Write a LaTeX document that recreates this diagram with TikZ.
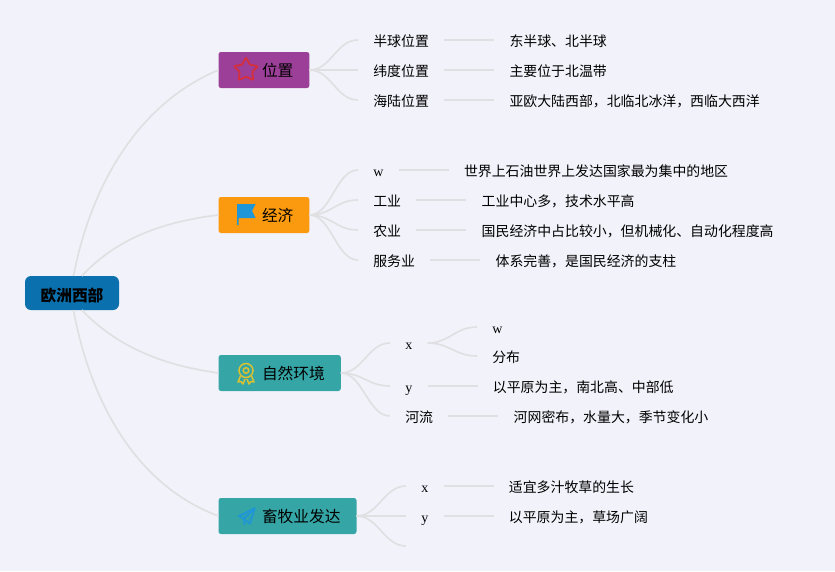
\documentclass[tikz,border=0pt]{standalone}
\usepackage{fontspec}
\setmainfont{Liberation Serif}
\newfontfamily\cjk{Noto Sans CJK SC}
\usetikzlibrary{shapes.geometric, positioning}
\definecolor{pagebg}{RGB}{242, 242, 250}
\definecolor{linegray}{RGB}{224, 224, 227}
\definecolor{rootblue}{RGB}{10, 112, 174}
\definecolor{purplebox}{RGB}{156, 63, 152}
\definecolor{orangebox}{RGB}{251, 154, 14}
\definecolor{tealbox}{RGB}{54, 165, 165}
\definecolor{starred}{RGB}{211, 47, 60}
\definecolor{iconblue}{RGB}{30, 150, 216}
\definecolor{iconyellow}{RGB}{217, 194, 50}
\newcommand{\iconpad}{\hspace*{27.5pt}}
\tikzset{
    rootbox/.style={fill=rootblue, rounded corners=6pt, minimum width=94pt, minimum height=34pt,
        inner sep=0pt, outer sep=0pt, text height=16pt, text depth=0pt,
        font=\cjk\bfseries\fontsize{15.7}{18}\selectfont},
    catbox/.style={fill=#1, rounded corners=2.5pt, anchor=west, minimum height=36pt,
        inner xsep=16pt, inner ysep=0pt, outer sep=0pt, text height=15pt, text depth=1.2pt,
        font=\cjk\fontsize{15.7}{18}\selectfont},
    leaf/.style={anchor=west, inner xsep=15.3pt, inner ysep=0pt, outer sep=0pt, text height=14pt, text depth=2pt,
        font=\cjk\fontsize{13.9}{16}\selectfont},
    varleaf/.style={leaf, font=\rmfamily\fontsize{14}{16}\selectfont},
    wire/.style={draw=linegray, line width=1.7pt},
    branch/.style={wire, to path={.. controls +(22,0) and +(-22,0) .. (\tikztotarget)}},
}
\begin{document}
\begin{tikzpicture}[x=1pt, y=-1pt]
    \useasboundingbox (0,0) rectangle (835,571);
    \fill[pagebg] (0,0) rectangle (835,571);

    % Root and category boxes
    \node[rootbox] (root) at (72,293) {欧洲西部};
    \node[catbox=purplebox] (pos) at (218.5,70) {\iconpad 位置};
    \node[catbox=orangebox] (eco) at (218.5,215) {\iconpad 经济};
    \node[catbox=tealbox] (env) at (218.5,373) {\iconpad 自然环境};
    \node[catbox=tealbox] (farm) at (218.5,516) {\iconpad 畜牧业发达};

    % Root connectors
    \draw[wire] (root.85) .. controls (90,190) and (135,105) .. (pos.west);
    \draw[wire] (root.60) .. controls (115,240) and (160,222) .. (eco.west);
    \draw[wire] (root.-60) .. controls (115,345) and (160,365) .. (env.west);
    \draw[wire] (root.-85) .. controls (90,400) and (135,485) .. (farm.west);

    % Position rows
    \node[leaf] (hemi) at (358,40) {半球位置};
    \node[leaf] (lat) at (358,70) {纬度位置};
    \node[leaf] (sea) at (358,100) {海陆位置};
    \node[leaf, right=50pt of hemi] (hemitxt) {东半球、北半球};
    \node[leaf, right=50pt of lat] (lattxt) {主要位于北温带};
    \node[leaf, right=50pt of sea] (seatxt) {亚欧大陆西部，北临北冰洋，西临大西洋};
    \foreach \a/\b in {hemi/hemitxt, lat/lattxt, sea/seatxt} {
        \draw[wire] (\a.east) -- (\b.west);
        \draw[branch] (pos.east) to (\a.west);
    }

    % Economy rows
    \node[varleaf] (ecow) at (358,170) {w};
    \node[leaf] (ind) at (358,200) {工业};
    \node[leaf] (agr) at (358,230) {农业};
    \node[leaf] (serv) at (358,260) {服务业};
    \node[leaf, right=50pt of ecow] (ecowtxt) {世界上石油世界上发达国家最为集中的地区};
    \node[leaf, right=50pt of ind] (indtxt) {工业中心多，技术水平高};
    \node[leaf, right=50pt of agr] (agrtxt) {国民经济中占比较小，但机械化、自动化程度高};
    \node[leaf, right=50pt of serv] (servtxt) {体系完善，是国民经济的支柱};
    \foreach \a/\b in {ecow/ecowtxt, ind/indtxt, agr/agrtxt, serv/servtxt} {
        \draw[wire] (\a.east) -- (\b.west);
        \draw[branch] (eco.east) to (\a.west);
    }

    % Environment rows
    \node[varleaf] (envx) at (390,343) {x};
    \node[varleaf] (envy) at (390,386) {y};
    \node[leaf] (river) at (390,416) {河流};
    \node[varleaf] (envw) at (477,327) {w};
    \node[leaf] (dist) at (477,356) {分布};
    \node[leaf, right=50pt of envy] (envytxt) {以平原为主，南北高、中部低};
    \node[leaf, right=50pt of river] (rivertxt) {河网密布，水量大，季节变化小};
    \draw[branch] (env.east) to (envx.west);
    \draw[branch] (env.east) to (envy.west);
    \draw[branch] (env.east) to (river.west);
    \draw[branch] (envx.east) to (envw.west);
    \draw[branch] (envx.east) to (dist.west);
    \draw[wire] (envy.east) -- (envytxt.west);
    \draw[wire] (river.east) -- (rivertxt.west);

    % Husbandry rows
    \node[varleaf] (farmx) at (406,486) {x};
    \node[varleaf] (farmy) at (406,516) {y};
    \coordinate (farmz) at (406,546);
    \node[leaf, right=50pt of farmx] (farmxtxt) {适宜多汁牧草的生长};
    \node[leaf, right=50pt of farmy] (farmytxt) {以平原为主，草场广阔};
    \draw[branch] (farm.east) to (farmx.west);
    \draw[branch] (farm.east) to (farmy.west);
    \draw[branch] (farm.east) to (farmz);
    \draw[wire] (farmx.east) -- (farmxtxt.west);
    \draw[wire] (farmy.east) -- (farmytxt.west);

    % Icons
    \node[star, star points=5, star point ratio=1.9, draw=starred, line width=1.8pt, rounded corners=1pt,
        minimum size=25pt, inner sep=0pt] (staricon) at (246,70) {};
    \fill[iconblue] (237,204) -- (255.5,204) -- (252,211) -- (255.5,218) -- (238.5,218) -- (238.5,225) -- (237,225) -- cycle;
    \draw[iconyellow, line width=1.5pt] (246,370.5) circle (7) (246,370.5) circle (2.8);
    \draw[iconyellow, line width=1.5pt, line join=round] (240.5,376) -- (238,382) -- (241,381.5) -- (243,384) -- (245,379);
    \draw[iconyellow, line width=1.5pt, line join=round] (251.5,376) -- (254,382) -- (251,381.5) -- (249,384) -- (247,379);
    \draw[iconblue, line width=1.5pt, line join=round, fill=iconblue, fill opacity=0.35] (255,508) -- (238.5,516) -- (244,519) -- (255,508) -- (250,524) -- (244,519) -- (244.5,525);
\end{tikzpicture}
\end{document}
